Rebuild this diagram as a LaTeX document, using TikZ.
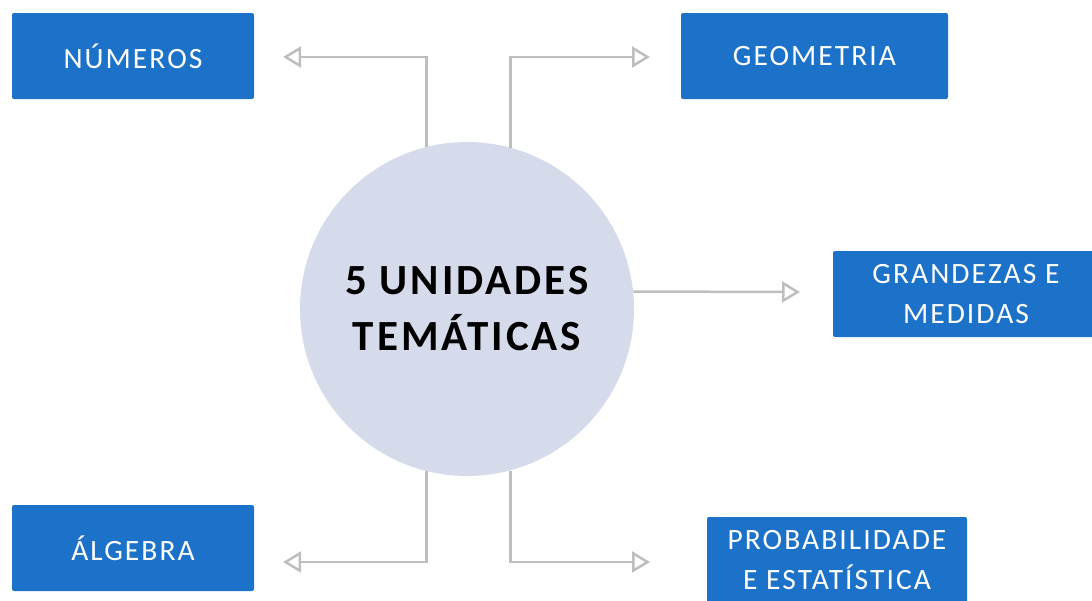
\documentclass[tikz,border=0pt]{standalone}
\usepackage{fontspec}
\setmainfont{Carlito}
\newfontfamily\spaced[LetterSpace=7]{Carlito}
\usetikzlibrary{arrows.meta}
\definecolor{boxblue}{RGB}{27,114,200}
\definecolor{circfill}{RGB}{213,219,235}
\definecolor{linegray}{RGB}{190,190,190}
\begin{document}
\begin{tikzpicture}[x=1pt,y=-1pt,
  topic/.style={fill=boxblue, text=white, rounded corners=2pt, inner sep=0pt,
    font=\spaced\fontsize{29.5}{40}\selectfont, align=center, minimum height=86pt},
  hub/.style={circle, fill=circfill, inner sep=0pt, minimum size=334pt, align=center,
    font=\spaced\bfseries\fontsize{43}{56}\selectfont, text=black},
  link/.style={draw=linegray, line width=2.5pt,
    -{Triangle[open,length=18pt,width=21pt,fill=white]}}]
\useasboundingbox (0,0) rectangle (1092,600);

\node[hub] (c) at (467,309) {5 UNIDADES\\TEMÁTICAS};

\node[topic, minimum width=242pt] (num) at (133,56) {NÚMEROS};
\node[topic, minimum width=267pt] (geo) at (814.5,56) {GEOMETRIA};
\node[topic, minimum width=266pt] (gra) at (966,294) {GRANDEZAS E\\MEDIDAS};
\node[topic, minimum width=242pt] (alg) at (133,548) {ÁLGEBRA};
\node[topic, minimum width=260pt] (pro) at (837,560) {PROBABILIDADE\\E ESTATÍSTICA};

\coordinate (numin) at (283,57);
\coordinate (geoin) at (650,57);
\coordinate (grain) at (800,292);
\coordinate (algin) at (283,562);
\coordinate (proin) at (650,562);

\draw[link] (c.104.6) |- (numin);
\draw[link] (c.75) |- (geoin);
\draw[link] (c.6) -- (grain);
\draw[link] (c.-104.6) |- (algin);
\draw[link] (c.-75) |- (proin);
\end{tikzpicture}
\end{document}
